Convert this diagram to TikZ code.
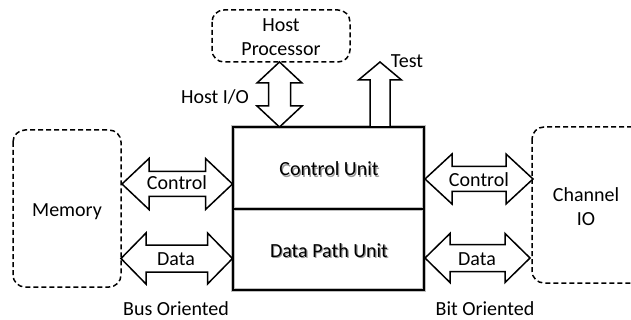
\documentclass[tikz,border=0pt]{standalone}
\usepackage{fontspec}
\setmainfont{Carlito}
\begin{document}
\begin{tikzpicture}[x=1pt,y=-1pt,
  every node/.style={font=\fontsize{20}{24}\selectfont, inner sep=0pt, align=center},
  lbl/.style={anchor=base},
  extbox/.style={draw, line width=1.5pt, dash pattern=on 5pt off 3pt, rounded corners=12pt},
  unitbox/.style={draw, line width=2pt},
  boxglow/.style={draw=black!25, line width=4.5pt},
  blockarrow/.style={draw, line width=1.5pt, fill=white, line join=miter},
  shadowtxt/.style={anchor=base, text=black!40}
]
\clip (0,0) rectangle (631,320);
\useasboundingbox (0,0) rectangle (631,320);

% horizontal double block arrow: x1, x2, yc, half head, half shaft, head length
\newcommand\hbiarrow[6]{%
  \draw[blockarrow] (#1,#3) -- ({#1+#6},{#3-#4}) -- ({#1+#6},{#3-#5}) -- ({#2-#6},{#3-#5})
    -- ({#2-#6},{#3-#4}) -- (#2,#3) -- ({#2-#6},{#3+#4}) -- ({#2-#6},{#3+#5})
    -- ({#1+#6},{#3+#5}) -- ({#1+#6},{#3+#4}) -- cycle;}

% external blocks
\draw[extbox] (212,10) rectangle (350,62);
\node (host) at (281,37) {Host\\Processor};
\draw[extbox] (13,130) rectangle (121,287);
\node[lbl] (mem) at (67,217) {Memory};
\draw[extbox] (532,127) rectangle (660,283);
\node (chan) at (586,207) {Channel\\IO};

% processor core: control unit over data path unit
\draw[boxglow] (233,127) rectangle (424,290);
\draw[boxglow] (233,209) -- (424,209);
\node[shadowtxt] at (330.2,177.2) {Control Unit};
\node[shadowtxt] at (330.2,258.2) {Data Path Unit};
\draw[unitbox] (233,127) rectangle (424,209);
\draw[unitbox] (233,209) rectangle (424,290);
\node[lbl] (cu) at (329,176) {Control Unit};
\node[lbl] (dp) at (329,257) {Data Path Unit};

% host interface (vertical double arrow)
\draw[blockarrow] (279.5,62) -- (302,83) -- (290.5,83) -- (290.5,106) -- (302,106)
  -- (279.5,127) -- (257,106) -- (268.5,106) -- (268.5,83) -- (257,83) -- cycle;
\node[lbl] (hio) at (215,104) {Host I/O};

% test output (single arrow)
\draw[blockarrow] (380,62) -- (401.5,80) -- (390,80) -- (390,127) -- (370,127)
  -- (370,80) -- (358.5,80) -- cycle;
\node[lbl] (test) at (407,68) {Test};

% buses to memory and channel
\hbiarrow{122}{232.5}{184}{25.5}{12.5}{27}
\node[lbl] (mc) at (177,190) {Control};
\hbiarrow{121}{232.5}{258.5}{25.5}{13.5}{25}
\node[lbl] (md) at (176,265) {Data};
\hbiarrow{425}{533}{179}{25}{12.5}{27}
\node[lbl] (cc) at (479,187) {Control};
\hbiarrow{425}{530}{258}{24.5}{13.5}{25}
\node[lbl] (cd) at (477,265) {Data};

% bus styles
\node[lbl] (bus) at (176,315) {Bus Oriented};
\node[lbl] (bit) at (485,315) {Bit Oriented};
\end{tikzpicture}
\end{document}
